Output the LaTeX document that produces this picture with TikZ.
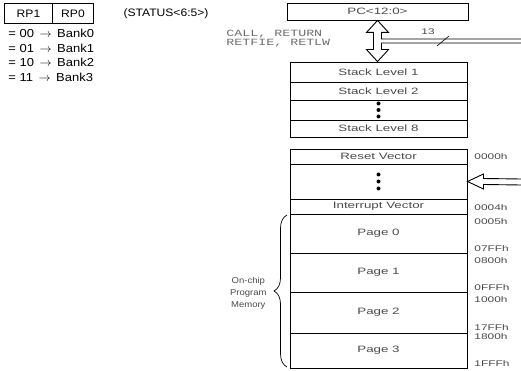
\documentclass[tikz,border=0pt]{standalone}
\usepackage{fontspec}
\setmainfont{Liberation Sans}[FakeStretch=1.12]
\newfontfamily\boxfont{Liberation Sans}[FakeStretch=1.45]
\newfontfamily\codefont{Liberation Mono}[FakeStretch=1.4]
\usetikzlibrary{decorations.pathreplacing}
\definecolor{inkgray}{HTML}{4A4A4A}
\definecolor{codegray}{HTML}{6E6E6E}

\begin{document}
\begin{tikzpicture}[x=1pt, y=-1pt, line width=0.9pt,
    cell/.style={draw, minimum width=177pt, inner sep=0pt, text=inkgray,
      font=\boxfont\fontsize{9.2}{10}\selectfont},
    addr/.style={anchor=west, inner sep=0pt, text=inkgray,
      font=\boxfont\fontsize{8.2}{9}\selectfont},
    bank/.style={anchor=west, inner sep=0pt, font=\fontsize{11.6}{12}\selectfont},
    dot/.style={fill, circle, inner sep=0pt, minimum size=4pt}]
  \useasboundingbox (0,0) rectangle (521,371);

  % Bank select bits
  \node[draw, minimum width=48pt, minimum height=20pt, inner sep=0pt, font=\fontsize{10.8}{12}\selectfont] (rp1) at (28.5,13.5) {RP1};
  \node[draw, minimum width=41pt, minimum height=20pt, inner sep=0pt, font=\fontsize{10.8}{12}\selectfont] (rp0) at (73,13.5) {RP0};
  \node[inner sep=0pt, font=\fontsize{10.8}{12}\selectfont] (status) at (166,14) {(STATUS<6:5>)};
  \foreach \b/\k/\y in {00/0/33, 01/1/48, 10/2/62, 11/3/77}
    \node[bank] (bank\k) at (8,\y) {= \b\,\ $\rightarrow$\ \,Bank\k};

  % Program counter
  \node[cell, minimum width=181pt, minimum height=17pt] (pc) at (377.5,11.5) {PC<12:0>};
  \node[anchor=west, align=left, inner sep=0pt, text=codegray,
    font=\codefont\fontsize{9.5}{9}\selectfont] (calls) at (226,38.5) {CALL, RETURN\\RETFIE, RETLW};

  % Stack
  \node[cell, minimum height=20pt] (s1) at (378.5,72) {Stack Level 1};
  \node[cell, minimum height=18pt] (s2) at (378.5,91) {Stack Level 2};
  \node[cell, minimum height=20pt] (sdots) at (378.5,110) {};
  \node[cell, minimum height=17pt] (s8) at (378.5,128.5) {Stack Level 8};
  \foreach \d in {-6.5,0,6.5}
    \node[dot] at ([yshift=\d pt]sdots.center) {};

  % Double arrow between PC and stack, with the 13-bit bus
  \coordinate (pctip) at (pc.south);
  \coordinate (sttip) at (s1.north -| pc.south);
  \coordinate (bus1) at (521,39);
  \coordinate (bus2) at (521,43);
  \draw (bus1) -| ([shift={(4,12)}]pctip) -- ([shift={(11,12)}]pctip) -- (pctip)
    -- ([shift={(-11,12)}]pctip) -- ([shift={(-4,12)}]pctip)
    -- ([shift={(-4,-12)}]sttip) -- ([shift={(-11,-12)}]sttip) -- (sttip)
    -- ([shift={(11,-12)}]sttip) -- ([shift={(4,-12)}]sttip) |- (bus2);
  \node[addr, anchor=center] (buswidth) at (428,32) {13};
  \draw[line width=0.6pt] (437,46) -- (449,36);

  % Program memory
  \node[cell, minimum height=15pt] (reset) at (378.5,156.5) {Reset Vector};
  \node[cell, minimum height=35pt] (mdots) at (378.5,181.5) {};
  \node[cell, minimum height=15pt] (intv) at (378.5,206.5) {Interrupt Vector};
  \node[cell, minimum height=39pt] (page0) at (378.5,233.5) {Page 0};
  \node[cell, minimum height=39pt] (page1) at (378.5,272.5) {Page 1};
  \node[cell, minimum height=41pt] (page2) at (378.5,312.5) {Page 2};
  \node[cell, minimum height=35pt] (page3) at (378.5,350.5) {Page 3};
  \foreach \d in {-7,0,7}
    \node[dot] at ([yshift=\d pt]mdots.center) {};

  % Addresses
  \foreach \a/\y in {0000h/157, 0004h/208, 0005h/222, 07FFh/249, 0800h/261,
                     0FFFh/288, 1000h/300, 17FFh/328, 1800h/337, 1FFFh/364}
    \node[addr] (addr-\a) at (474,\y) {\a};

  % Hollow arrow into memory
  \coordinate (in1) at (521,179);
  \coordinate (in2) at (521,185);
  \draw (in1) -- ([shift={(16,-3)}]mdots.east) -- ([shift={(16,-7.5)}]mdots.east)
    -- (mdots.east) -- ([shift={(16,7.5)}]mdots.east)
    -- ([shift={(16,3)}]mdots.east) -- (in2);

  % On-chip brace
  \draw[line width=0.7pt, decorate, decoration={brace, amplitude=13pt}] (287,367) -- (287,215);
  \node[anchor=east, align=center, inner sep=0pt, text=inkgray,
    font=\fontsize{8.5}{12}\selectfont] (onchip) at (267,293) {On-chip\\Program\\Memory};
\end{tikzpicture}
\end{document}
